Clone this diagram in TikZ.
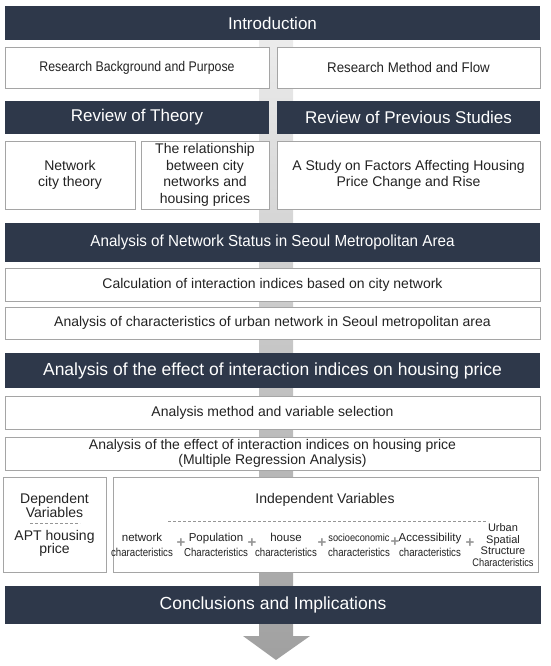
\documentclass[tikz,border=0pt]{standalone}
\usepackage{fontspec}
\setmainfont{Liberation Sans}
\newfontfamily\narrowfont[FakeStretch=0.95]{Liberation Sans}
\newfontfamily\tightfont[FakeStretch=0.88]{Liberation Sans}
\newfontfamily\squeezefont[FakeStretch=0.84]{Liberation Sans}
\definecolor{navy}{RGB}{46,56,74}
\definecolor{boxgray}{RGB}{165,165,165}
\definecolor{ink}{RGB}{35,35,35}
\definecolor{plusgray}{RGB}{150,150,150}
\definecolor{sepgray}{RGB}{150,150,150}
\definecolor{arrowtop}{RGB}{238,238,238}
\definecolor{arrowbot}{RGB}{160,160,160}
\begin{document}
\begin{tikzpicture}[x=1pt,y=-1pt,
  headbar/.style={fill=navy,text=white,inner sep=0pt,outer sep=0pt,font=\fontsize{17}{20}\selectfont},
  textbox/.style={draw=boxgray,line width=0.8pt,fill=white,text=ink,inner sep=0pt,outer sep=0pt,align=center,font=\fontsize{14}{16.5}\selectfont},
  varlabel/.style={text=ink,inner sep=0pt,align=center,font=\fontsize{11.5}{14.5}\selectfont},
  plussign/.style={text=plusgray,inner sep=0pt,font=\fontsize{15}{15}\selectfont\bfseries},
  splitline/.style={draw=sepgray,line width=0.6pt,dash pattern=on 3pt off 2pt}]
\useasboundingbox (0,0) rectangle (550,666);
% background arrow
\shade[top color=arrowtop,bottom color=arrowbot] (259,20) -- (293,20) -- (293,636) -- (310,636) -- (276,660) -- (243,636) -- (259,636) -- cycle;
% introduction
\node[headbar,minimum width=535pt,minimum height=34pt] (intro) at (272.5,23) {Introduction};
\node[textbox,minimum width=264pt,minimum height=41pt,font=\tightfont\fontsize{14}{16.5}\selectfont] (purpose) at (137,67.5) {Research Background and Purpose};
\node[textbox,minimum width=263pt,minimum height=41pt,font=\narrowfont\fontsize{14}{16.5}\selectfont] (flow) at (408.5,67.5) {Research Method and Flow};
% reviews
\node[headbar,minimum width=264pt,minimum height=33pt] (theory) at (137,117.5) {Review of Theory};
\node[headbar,minimum width=263pt,minimum height=33pt] (studies) at (408.5,117.5) {Review of Previous Studies};
\node[textbox,minimum width=130pt,minimum height=68pt] (netcity) at (70,175) {Network\\city theory};
\node[textbox,minimum width=128pt,minimum height=68pt] (relation) at (205,175) {The relationship\\between city\\networks and\\housing prices};
\node[textbox,minimum width=263pt,minimum height=68pt] (factors) at (408.5,175) {A Study on Factors Affecting Housing\\Price Change and Rise};
% network status
\node[headbar,minimum width=535pt,minimum height=39pt,font=\narrowfont\fontsize{16}{19}\selectfont] (status) at (272.5,242.5) {Analysis of Network Status in Seoul Metropolitan Area};
\node[textbox,minimum width=535pt,minimum height=33pt] (calc) at (272.5,284.5) {Calculation of interaction indices based on city network};
\node[textbox,minimum width=535pt,minimum height=32pt] (urban) at (272.5,323) {Analysis of characteristics of urban network in Seoul metropolitan area};
% effect on housing price
\node[headbar,minimum width=535pt,minimum height=35pt,font=\fontsize{17.5}{20}\selectfont] (effect) at (272.5,370.5) {Analysis of the effect of interaction indices on housing price};
\node[textbox,minimum width=535pt,minimum height=33pt] (select) at (272.5,412.5) {Analysis method and variable selection};
\node[textbox,minimum width=535pt,minimum height=33pt,font=\fontsize{14}{15.5}\selectfont] (regress) at (272.5,453.5) {Analysis of the effect of interaction indices on housing price\\(Multiple Regression Analysis)};
% variables
\node[textbox,minimum width=103pt,minimum height=95pt] (dep) at (54.5,524.5) {};
\node[textbox,minimum width=425pt,minimum height=95pt] (indep) at (325.5,524.5) {};
\node[varlabel,font=\fontsize{14}{13.5}\selectfont] (deptop) at (54.5,505.5) {Dependent\\Variables};
\draw[splitline] (30,523) -- (80,523);
\node[varlabel,font=\fontsize{14}{13.5}\selectfont] (depbot) at (54.5,543.5) {APT housing\\price};
\node[varlabel,font=\fontsize{14}{16}\selectfont] (indeptop) at (325,500) {Independent Variables};
\draw[splitline] (168,521) -- (488,521);
\node[varlabel] (v1) at (142,545) {network\\{\squeezefont characteristics}};
\node[varlabel] (v2) at (216,545) {Population\\{\squeezefont Characteristics}};
\node[varlabel] (v3) at (286,545) {house\\{\squeezefont characteristics}};
\node[varlabel] (v4) at (359,545) {{\tightfont\fontsize{10.5}{12}\selectfont socioeconomic}\\{\squeezefont characteristics}};
\node[varlabel] (v5) at (430,545) {Accessibility\\{\squeezefont characteristics}};
\node[varlabel,font=\fontsize{11}{11.5}\selectfont] (v6) at (503,545) {Urban\\Spatial\\Structure\\{\squeezefont Characteristics}};
\foreach \px/\py in {181/543,252/543,322/543,395/542,470/543}
  \node[plussign] (p\px) at (\px,\py) {+};
% conclusions
\node[headbar,minimum width=536pt,minimum height=38pt,font=\fontsize{17.5}{20}\selectfont] (concl) at (273,605) {Conclusions and Implications};
\end{tikzpicture}
\end{document}
